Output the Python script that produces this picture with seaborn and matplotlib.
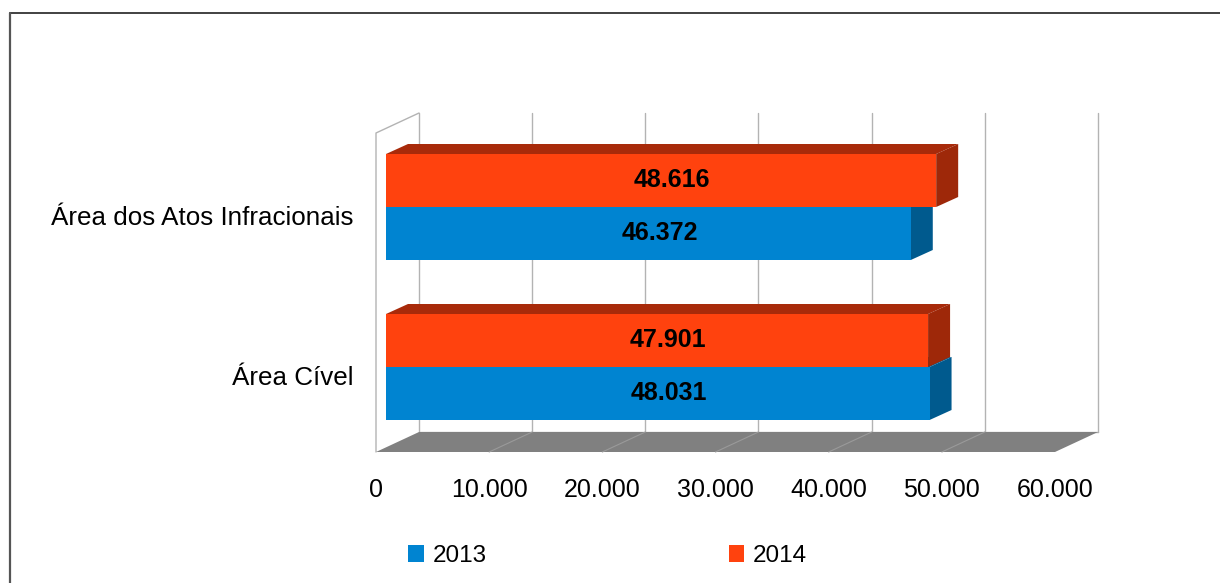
import numpy as np
import pandas as pd
import matplotlib
matplotlib.use("Agg")
import matplotlib.pyplot as plt
from matplotlib.patches import Polygon, Patch
from matplotlib.lines import Line2D
import seaborn as sns

# ---- data ----
areas = ["Área dos Atos Infracionais", "Área Cível"]
anos = ["2013", "2014"]
valores_2013 = [46372, 48031]
valores_2014 = [48616, 47901]
ticks = [0, 10000, 20000, 30000, 40000, 50000, 60000]
tick_labels = ["0", "10.000", "20.000", "30.000", "40.000", "50.000", "60.000"]

cores = {"2013": "#0084D1", "2014": "#FF420E"}
cores_topo = {"2013": "#005F96", "2014": "#A82A0A"}
cores_lado = {"2013": "#005A8E", "2014": "#9E2809"}

df = pd.DataFrame({
    "area": areas * 2,
    "ano": ["2013"] * 2 + ["2014"] * 2,
    "valor": valores_2013 + valores_2014,
})

sns.set_style("white")
plt.rcParams["font.family"] = ["Liberation Sans", "DejaVu Sans"]
plt.rcParams["text.color"] = "black"

W, H = 1220, 583
fig = plt.figure(figsize=(W / 100, H / 100), dpi=100)
ax = fig.add_axes([0, 0, 1, 1])

# pixel <-> data helpers (x = value, y = category units)
K = 679 / 60000.0          # pixels per unit of value
X0 = 386                   # pixel of value 0 on the bar front plane
Y0 = 207                   # pixel of the first category centre
CAT = 160                  # pixels per category step


def dx(px):
    return px / K


def X(px):
    return (px - X0) / K


def Y(py):
    return (py - Y0) / CAT


sns.barplot(data=df, x="valor", y="area", hue="ano", hue_order=["2014", "2013"],
            palette=cores, orient="h", width=0.6625, saturation=1,
            linewidth=0, edgecolor="none", legend=False, ax=ax)

ax.set_xlim(X(0), X(W))
ax.set_ylim(Y(H), Y(0))
ax.axis("off")

# ---- walls and floor ----
grid_c = "#b3b3b3"
for t in ticks:
    xb = X(419) + t
    ax.add_line(Line2D([xb, xb], [Y(113), Y(432)], color=grid_c, lw=1.0, zorder=0.5))
ax.add_line(Line2D([X(419), X(419) + ticks[-1]], [Y(432), Y(432)], color=grid_c, lw=1.0, zorder=0.5))
ax.add_line(Line2D([X(376), X(376), X(419)], [Y(452), Y(133), Y(113)], color=grid_c, lw=1.0, zorder=0.5))

floor = Polygon([(X(376), Y(452)), (X(376) + ticks[-1], Y(452)),
                 (X(419) + ticks[-1], Y(432)), (X(419), Y(432))],
                closed=True, facecolor="#808080", edgecolor="none", zorder=0.6)
ax.add_patch(floor)
for t in ticks[1:-1]:
    ax.add_line(Line2D([X(376) + t, X(419) + t], [Y(452), Y(432)],
                       color="#9a9a9a", lw=0.8, zorder=0.7))

# ---- 3D faces of the bars ----
DX = dx(22)
DY = -10 / CAT
zbase = {"2013": 2, "2014": 4}
for ano, cont in zip(["2014", "2013"], ax.containers):
    for bar in cont:
        x0 = bar.get_x()
        x1 = x0 + bar.get_width()
        y_top = bar.get_y()
        y_bot = y_top + bar.get_height()
        bar.set_zorder(zbase[ano] + 1)
        top = Polygon([(x0, y_top), (x0 + DX, y_top + DY), (x1 + DX, y_top + DY), (x1, y_top)],
                      closed=True, facecolor=cores_topo[ano], edgecolor="none", zorder=zbase[ano])
        ax.add_patch(top)
        side = Polygon([(x1, y_top), (x1 + DX, y_top + DY), (x1 + DX, y_bot + DY), (x1, y_bot)],
                       closed=True, facecolor=cores_lado[ano], edgecolor="none", zorder=zbase[ano])
        ax.add_patch(side)
        val = int(round(bar.get_width()))
        ax.text((x0 + x1) / 2 + dx(11), (y_top + y_bot) / 2 + 6.5 / CAT,
                f"{val:,}".replace(",", "."), ha="center", va="baseline",
                fontsize=18, fontweight="bold", color="black", zorder=7)

# ---- labels ----
for i, area in enumerate(areas):
    ax.text(X(354), i + Y(225), area, ha="right", va="baseline",
            fontsize=18.7, color="black")

for t, lab in zip(ticks, tick_labels):
    ax.text(X(376) + t, Y(497), lab, ha="center", va="baseline", fontsize=18, color="black")

# ---- legend ----
handles = [Patch(facecolor=cores[a], edgecolor="none") for a in anos]
fig.legend(handles, anos, loc="center left", bbox_to_anchor=(396 / W, 1 - 556 / H),
           ncol=2, frameon=False, fontsize=17.5, borderpad=0, handlelength=0.64,
           handleheight=0.68, handletextpad=0.36, columnspacing=9.96, labelcolor="black")

# ---- outer frame ----
fig.add_artist(Line2D([10 / W, 1], [1 - 13 / H, 1 - 13 / H], transform=fig.transFigure,
                      color="#333333", lw=1.3))
fig.add_artist(Line2D([10 / W, 10 / W], [1 - 13 / H, 0], transform=fig.transFigure,
                      color="#555555", lw=1.6))

fig.savefig("out.png", dpi=100)
